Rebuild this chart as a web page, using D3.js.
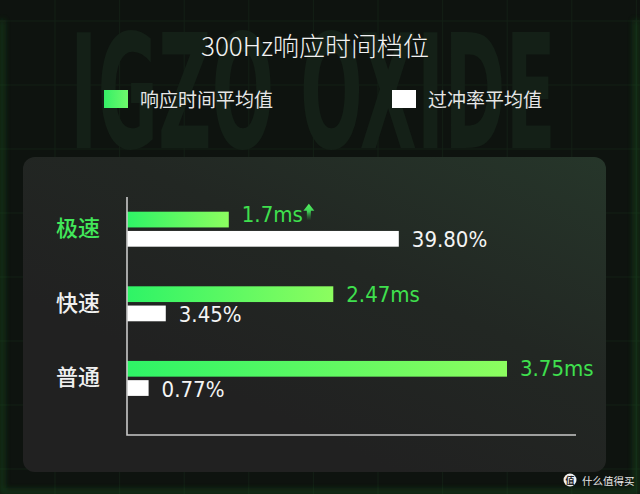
<!DOCTYPE html>
<html>
<head>
<meta charset="utf-8">
<script src="https://cdn.jsdelivr.net/npm/d3@7"></script>
<style>
  html, body { margin: 0; padding: 0; background: #0e130f; }
  svg { display: block; }
</style>
</head>
<body>
<script>
// ---- data ----
const title = "300Hz响应时间档位";
const categories = ["极速", "快速", "普通"];
const seriesNames = ["响应时间平均值", "过冲率平均值"];
const responseTime = [1.7, 2.47, 3.75];          // ms
const overshoot = [39.80, 3.45, 0.77];            // %
const responseLabels = ["1.7ms", "2.47ms", "3.75ms"];
const overshootLabels = ["39.80%", "3.45%", "0.77%"];
const watermarkText = "IGZO OXIDE";
const sourceText = "什么值得买";

const W = 640, H = 494;
const svg = d3.select("body").append("svg").attr("width", W).attr("height", H);
const defs = svg.append("defs");

// gradients
const gBar = defs.append("linearGradient").attr("id", "gBar").attr("x1", 0).attr("x2", 1).attr("y1", 0).attr("y2", 0);
gBar.append("stop").attr("offset", 0).attr("stop-color", "#2ef466");
gBar.append("stop").attr("offset", 1).attr("stop-color", "#8cfd5f");
const gLeg = defs.append("linearGradient").attr("id", "gLeg").attr("x1", 0).attr("x2", 1);
gLeg.append("stop").attr("offset", 0).attr("stop-color", "#35ef66");
gLeg.append("stop").attr("offset", 1).attr("stop-color", "#6ff96c");
const gPanel = defs.append("linearGradient").attr("id", "gPanel").attr("x1", 1).attr("y1", 0).attr("x2", 0.35).attr("y2", 0.75);
gPanel.append("stop").attr("offset", 0).attr("stop-color", "#26362a");
gPanel.append("stop").attr("offset", 0.55).attr("stop-color", "#222723");
gPanel.append("stop").attr("offset", 1).attr("stop-color", "#212121");
const gArrow = defs.append("linearGradient").attr("id", "gArrow").attr("x1", 0).attr("x2", 0).attr("y1", 0).attr("y2", 1);
gArrow.append("stop").attr("offset", 0).attr("stop-color", "#52f25e");
gArrow.append("stop").attr("offset", 0.5).attr("stop-color", "#3fcf55");
gArrow.append("stop").attr("offset", 1).attr("stop-color", "#2a6a33").attr("stop-opacity", 0.2);
const blur = defs.append("filter").attr("id", "blur").attr("x", "-10%").attr("y", "-10%").attr("width", "120%").attr("height", "120%");
blur.append("feGaussianBlur").attr("stdDeviation", 3);

// background
svg.append("rect").attr("width", W).attr("height", H).attr("fill", "#0e130f");
// grid
const grid = svg.append("g").attr("stroke", "#1a2e1d").attr("stroke-width", 1).attr("opacity", 0.45);
d3.range(55, W, 64.6).forEach(x => grid.append("line").attr("x1", x).attr("x2", x).attr("y1", 0).attr("y2", H));
d3.range(21, H, 64).forEach(y => grid.append("line").attr("x1", 0).attr("x2", W).attr("y1", y).attr("y2", y));
// edge glow (sides and bottom)
svg.append("path").attr("d", `M2,20 V${H - 2} H${W - 4} V20`)
  .attr("fill", "none").attr("stroke", "#1c6a25").attr("stroke-width", 3).attr("filter", "url(#blur)").attr("opacity", 0.7);
svg.append("line").attr("x1", 635).attr("x2", 635).attr("y1", 0).attr("y2", H)
  .attr("stroke", "#27a334").attr("stroke-width", 2).attr("filter", "url(#blur)");

// watermark
svg.append("text").attr("x", 70).attr("y", 148)
  .attr("textLength", 486).attr("lengthAdjust", "spacingAndGlyphs")
  .style("font-family", "'DejaVu Sans Condensed', 'Liberation Sans Narrow', sans-serif")
  .style("font-weight", 700).style("font-size", "158px")
  .attr("fill", "#142017")
  .text(watermarkText);

// title
svg.append("text").attr("x", 315).attr("y", 56).attr("text-anchor", "middle")
  .style("font-family", "'Noto Sans CJK SC', 'Noto Sans', sans-serif").style("font-weight", 300)
  .style("font-size", "26px").attr("fill", "#f2f2f2").text(title);

// legend
const legend = svg.append("g").style("font-family", "'Noto Sans CJK SC', sans-serif").style("font-size", "19px");
const legX = [104, 392];
const legFill = ["url(#gLeg)", "#ffffff"];
seriesNames.forEach((s, i) => {
  legend.append("rect").attr("x", legX[i]).attr("y", 90).attr("width", 24).attr("height", 18).attr("fill", legFill[i]);
  legend.append("text").attr("x", legX[i] + 36).attr("y", 107).attr("fill", "#e6e6e6").text(s);
});

// panel
svg.append("rect").attr("x", 23).attr("y", 157).attr("width", 583).attr("height", 315).attr("rx", 12)
  .attr("fill", "url(#gPanel)");

// scales
const x0 = 127;
const y = d3.scaleBand().domain(categories).range([211.7, 395.9]).paddingInner(0.531).paddingOuter(0);
const ySub = d3.scaleBand().domain(["rt", "os"]).range([0, y.bandwidth()]).paddingInner(0.182);
const xRT = d3.scaleLinear().domain([0.95, 3.75]).range([x0, x0 + 380]);
const xOS = d3.scaleLinear().domain([-2.6, 39.8]).range([x0, x0 + 271.8]);

const plot = svg.append("g");
// bars
plot.selectAll(".rt").data(categories).join("rect")
  .attr("x", x0).attr("y", d => y(d) + ySub("rt"))
  .attr("width", (d, i) => xRT(responseTime[i]) - x0).attr("height", ySub.bandwidth())
  .attr("fill", "url(#gBar)");
plot.selectAll(".os").data(categories).join("rect")
  .attr("x", x0).attr("y", d => y(d) + ySub("os"))
  .attr("width", (d, i) => xOS(overshoot[i]) - x0).attr("height", ySub.bandwidth())
  .attr("fill", "#ffffff");

// value labels
const numFont = "'DejaVu Sans Condensed', 'Liberation Sans Narrow', sans-serif";
plot.selectAll(".rtl").data(categories).join("text")
  .attr("x", (d, i) => xRT(responseTime[i]) + 13)
  .attr("y", (d, i) => y(d) + ySub("rt") + ySub.bandwidth() / 2 - (i === 0 ? 5 : 0))
  .attr("dominant-baseline", "central")
  .style("font-family", numFont).style("font-size", "22px")
  .attr("fill", "#3fe04e")
  .text((d, i) => responseLabels[i]);
plot.selectAll(".osl").data(categories).join("text")
  .attr("x", (d, i) => xOS(overshoot[i]) + 13)
  .attr("y", (d, i) => y(d) + ySub("os") + ySub.bandwidth() / 2 + 1)
  .attr("dominant-baseline", "central")
  .style("font-family", numFont).style("font-size", "22px")
  .attr("fill", "#f4f4f4")
  .text((d, i) => overshootLabels[i]);

// up arrow after the fastest response label
const firstLabel = plot.selectAll("text").filter((d, i, n) => i === 0).node();
const bb = firstLabel.getBBox();
const ax = bb.x + bb.width + 6, ay = y(categories[0]) - 8;
plot.append("path")
  .attr("d", `M${ax},${ay} L${ax + 5.5},${ay + 7} L${ax + 2},${ay + 7} L${ax + 2},${ay + 16} L${ax - 2},${ay + 16} L${ax - 2},${ay + 7} L${ax - 5.5},${ay + 7} Z`)
  .attr("fill", "url(#gArrow)");

// category axis labels
const axisG = plot.append("g").attr("transform", `translate(${x0},0)`)
  .call(d3.axisLeft(y).tickSize(0).tickPadding(27));
axisG.select(".domain").remove();
axisG.selectAll("text")
  .style("font-family", "'Noto Sans CJK SC', sans-serif").style("font-size", "22px").style("font-weight", 500)
  .attr("fill", (d, i) => i === 0 ? "#42e85a" : "#f0f0f0");

// axis lines
plot.append("path").attr("d", `M${x0},197 V435 H576`).attr("fill", "none")
  .attr("stroke", "#c9c9c9").attr("stroke-width", 1.6);

// source watermark
const src = svg.append("g");
src.append("circle").attr("cx", 570).attr("cy", 480).attr("r", 6.5).attr("fill", "#f0f0f0");
src.append("text").attr("x", 570).attr("y", 483.5).attr("text-anchor", "middle")
  .style("font-family", "'Noto Sans CJK SC', sans-serif").style("font-size", "9px").style("font-weight", 700)
  .attr("fill", "#222").text("值");
src.append("text").attr("x", 582).attr("y", 484.5)
  .style("font-family", "'Noto Sans CJK SC', sans-serif").style("font-size", "10.5px")
  .attr("fill", "#e8e8e8").text(sourceText);
</script>
</body>
</html>
